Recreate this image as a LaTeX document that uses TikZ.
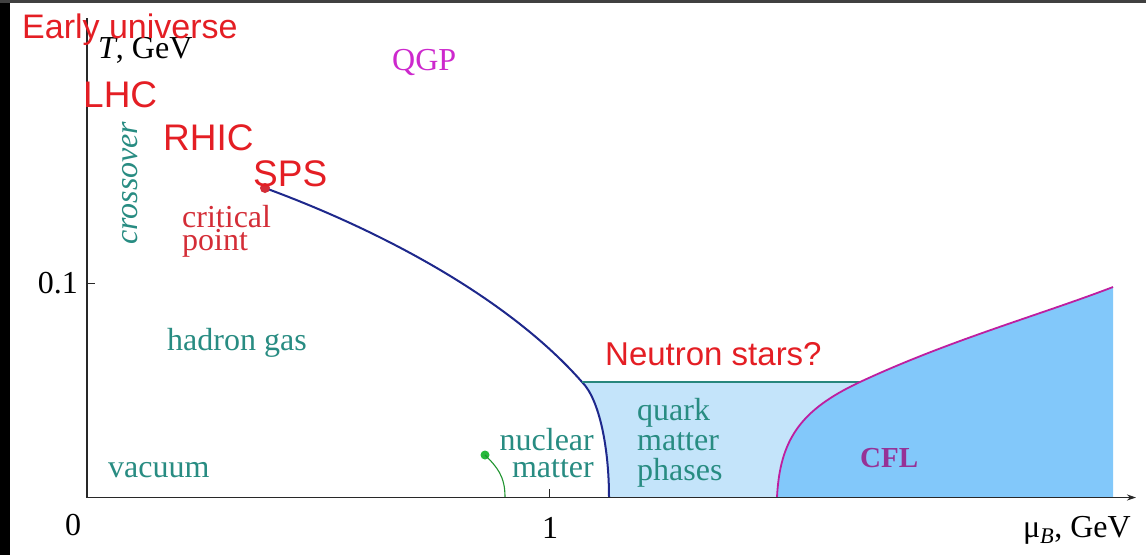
\documentclass[tikz,border=0pt]{standalone}
\usepackage{fontspec}
\setmainfont{Liberation Serif}
\newfontfamily\sansf{Liberation Sans}
\usetikzlibrary{arrows.meta}
\definecolor{lblred}{RGB}{228,30,36}
\definecolor{cpred}{RGB}{212,45,55}
\definecolor{tealtxt}{RGB}{40,140,130}
\definecolor{tealline}{RGB}{40,135,125}
\definecolor{navyline}{RGB}{30,40,140}
\definecolor{magline}{RGB}{190,30,160}
\definecolor{qgpcol}{RGB}{205,40,205}
\definecolor{cflcol}{RGB}{150,50,150}
\definecolor{qfill}{RGB}{196,228,250}
\definecolor{cflfill}{RGB}{130,200,250}
\definecolor{dotgreen}{RGB}{40,185,60}
\definecolor{axiscol}{RGB}{40,40,40}
\begin{document}
\begin{tikzpicture}[x=1pt,y=-1pt,
  serif/.style={inner sep=0pt, font=\fontsize{32}{23}\selectfont},
  bigred/.style={inner sep=0pt, text=lblred, font=\sansf\fontsize{37}{40}\selectfont},
  axisline/.style={draw=axiscol, line width=1.3pt},
  ticktxt/.style={serif, text=black}
]
\useasboundingbox (0,0) rectangle (1146,555);
\fill[white] (0,0) rectangle (1146,555);
% frame
\fill[black] (0,0) rectangle (10,555);
\fill[black!75] (0,0) rectangle (1146,2.5);

% regions
\fill[qfill] (582,382) -- (860,382) .. controls (800,410) and (780,440) .. (777,497) -- (609,497) .. controls (609,450) and (600,400) .. (582,382) -- cycle;
\fill[cflfill] (777,497) .. controls (780,440) and (800,410) .. (860,382) .. controls (950,340) and (1040,315) .. (1113,287) -- (1113,497) -- cycle;

% phase boundaries
\coordinate (cpc) at (265,188);
\coordinate (ns) at (582,382);
\coordinate (nsr) at (860,382);
\draw[navyline, line width=2pt] (cpc) .. controls (385,232) and (510,300) .. (ns) .. controls (600,400) and (609,450) .. (609,497);
\draw[tealline, line width=1.8pt] (ns) -- (nsr);
\draw[magline, line width=1.8pt] (777,497) .. controls (780,440) and (800,410) .. (nsr) .. controls (950,340) and (1040,315) .. (1113,287);

% nuclear matter marker
\node[circle, fill=dotgreen, inner sep=0pt, minimum size=9pt] (nm) at (485,455) {};
\coordinate (nmb) at (505,497);
\draw[dotgreen!80!black, line width=1.1pt] (nm.center) .. controls (497,467) and (505,476) .. (nmb);

% axes
\coordinate (o) at (87,497.5);
\coordinate (ytop) at (87,18);
\coordinate (xend) at (1136,497.5);
\draw[axisline] (o) -- (ytop);
\draw[axisline, -{Stealth[length=9pt,width=6pt]}] (o) -- (xend);
\draw[axisline, line width=1pt] (87,283) -- (95,283);
\draw[axisline, line width=1pt] (549,497) -- (549,489);

% critical point
\node[circle, fill=cpred, inner sep=0pt, minimum size=10pt] (cp) at (cpc) {};

% axis labels
\node[ticktxt, anchor=base] (zero) at (73,535) {0};
\node[ticktxt, anchor=base] (one) at (550,538) {1};
\node[ticktxt, anchor=base east] (pt1) at (78,293) {0.1};
\node[ticktxt, anchor=base east] (mub) at (1131,537) {μ\textsubscript{\textit{B}}, GeV};
\node[ticktxt, anchor=base west] (tgev) at (98,58) {\textit{T}, GeV};

% region labels
\node[serif, text=qgpcol, anchor=base west] (qgp) at (392,70) {QGP};
\node[serif, text=tealtxt, anchor=base west, rotate=90] (cross) at (137,245) {\textit{crossover}};
\node[serif, text=cpred, anchor=base west, align=left] (cptxt) at (182,250) {critical\\point};
\node[serif, text=tealtxt, anchor=base west] (hg) at (167,350) {hadron gas};
\node[serif, text=tealtxt, anchor=base west] (vac) at (108,477) {vacuum};
\node[serif, text=tealtxt, anchor=base east, align=right, font=\fontsize{32}{27}\selectfont] (nuc) at (594,477) {nuclear\\matter};
\node[serif, text=tealtxt, anchor=base west, align=left, font=\fontsize{32}{30}\selectfont] (qmp) at (637,480) {quark\\matter\\phases};
\node[serif, text=cflcol, anchor=base west, font=\bfseries\fontsize{29}{30}\selectfont] (cfl) at (860,467) {CFL};

% red sans labels
\node[bigred, anchor=base west, font=\sansf\fontsize{34}{36}\selectfont] (eu) at (22,38) {Early universe};
\node[bigred, anchor=base west] (lhc) at (83,107) {LHC};
\node[bigred, anchor=base west] (rhic) at (163,150) {RHIC};
\node[bigred, anchor=base west] (sps) at (253,186) {SPS};
\node[bigred, anchor=base west, font=\sansf\fontsize{33}{36}\selectfont] (nstar) at (605,365) {Neutron stars?};
\end{tikzpicture}
\end{document}
